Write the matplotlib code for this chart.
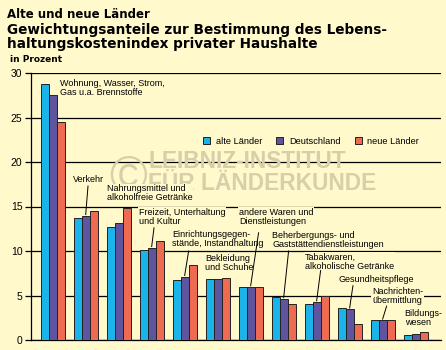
import matplotlib
matplotlib.use("Agg")
import matplotlib.pyplot as plt
import numpy as np

# Gewichtungsanteile in Prozent
alte = [28.8, 13.7, 12.7, 10.1, 6.7, 6.8, 5.95, 4.85, 4.0, 3.65, 2.3, 0.55]
deutschland = [27.5, 13.95, 13.1, 10.35, 7.1, 6.85, 5.95, 4.6, 4.25, 3.45, 2.2, 0.65]
neue = [24.5, 14.5, 14.8, 11.1, 8.45, 6.95, 5.95, 4.05, 4.9, 1.85, 2.2, 0.85]

labels = [
    "Wohnung, Wasser, Strom,\nGas u.a. Brennstoffe",
    "Verkehr",
    "Nahrungsmittel und\nalkoholfreie Getränke",
    "Freizeit, Unterhaltung\nund Kultur",
    "Einrichtungsgegen-\nstände, Instandhaltung",
    "Bekleidung\nund Schuhe",
    "andere Waren und\nDienstleistungen",
    "Beherbergungs- und\nGaststättendienstleistungen",
    "Tabakwaren,\nalkoholische Getränke",
    "Gesundheitspflege",
    "Nachrichten-\nübermittlung",
    "Bildungs-\nwesen",
]
series_names = ["alte Länder", "Deutschland", "neue Länder"]

# text anchor (left, top) and leader start, in data units
label_pos = [(0.22, 29.35), (0.61, 18.5), (1.65, 17.5), (2.61, 14.85),
             (3.61, 12.4), (4.61, 9.7), (5.65, 14.85), (6.65, 12.3),
             (7.65, 9.8), (8.65, 7.25), (9.68, 6.0), (10.67, 3.45)]
leader_start = [None, (1.07, 17.3), None, (3.07, 12.6), (4.12, 10.0), None,
                (6.24, 12.05), (7.15, 10.0), (8.12, 7.8), (9.1, 6.1),
                (10.12, 3.8), None]

bg = "#FFF9CC"
wm = "#D6CFAA"
colors = ["#1BB4EA", "#5E559E", "#EE6A50"]
lab_font = ["Liberation Sans", "DejaVu Sans"]

fig = plt.figure(figsize=(4.46, 3.5), dpi=100, facecolor=bg)
ax = fig.add_axes([30.7 / 446, 10 / 350, 410 / 446, 267 / 350])
ax.set_facecolor(bg)

x = np.arange(len(labels))
w = 0.242
for k, vals in enumerate([alte, deutschland, neue]):
    ax.bar(x + (k - 1) * w, vals, w, color=colors[k], edgecolor="#222222",
           linewidth=0.7, zorder=3, label=series_names[k])

ax.set_xlim(-0.667, 11.76)
ax.set_ylim(0, 30)
ax.set_yticks(range(0, 31, 5))
ax.yaxis.grid(True, color="black", linewidth=0.9, zorder=0)
ax.set_axisbelow(True)
ax.set_xticks([])
for s in ["top", "right"]:
    ax.spines[s].set_visible(False)
ax.spines["left"].set_linewidth(0.9)
ax.spines["bottom"].set_linewidth(0.9)
ax.tick_params(axis="y", length=4, width=0.9, labelsize=7.5, pad=2)
for t in ax.get_yticklabels():
    t.set_family(lab_font)

# watermark
ax.text((128 - 30.7) / 410, (340 - 174) / 267, "©", transform=ax.transAxes,
        fontsize=37, color=wm, ha="center", va="center_baseline", zorder=2,
        family=lab_font)
for txt, py in [("LEIBNIZ-INSTITUT", 161.5), ("FÜR LÄNDERKUNDE", 183)]:
    ax.text((148 - 30.7) / 410, (340 - py) / 267, txt,
            transform=ax.transAxes, fontsize=16.4, fontweight="bold",
            color=wm, ha="left", va="center", zorder=2, family=lab_font)

for i, lab in enumerate(labels):
    tx, ty = label_pos[i]
    ax.text(tx, ty, lab, fontsize=6.5, ha="left", va="top", linespacing=1.0,
            zorder=4, family=lab_font,
            bbox=dict(facecolor=bg, edgecolor="none", pad=0.5))
    if leader_start[i] is not None:
        sx, sy = leader_start[i]
        ax.plot([sx, i], [sy, deutschland[i] + 0.15], color="black",
                linewidth=0.7, zorder=4)

leg = ax.legend(loc="center", bbox_to_anchor=(0.684, 0.745), ncol=3,
                frameon=True, handlelength=0.75, handleheight=0.75,
                handletextpad=0.6, columnspacing=1.55, borderpad=0.2,
                prop={"family": lab_font, "size": 6.7})
leg.get_frame().set_facecolor(bg)
leg.get_frame().set_edgecolor("none")
leg.get_frame().set_alpha(1)
leg.set_zorder(5)

fig.text(7 / 446, 1 - 15 / 350, "Alte und neue Länder", fontsize=8.5,
         fontweight="bold", va="center", ha="left")
fig.text(7 / 446, 1 - 37 / 350,
         "Gewichtungsanteile zur Bestimmung des Lebens-\nhaltungskostenindex privater Haushalte",
         fontsize=9.8, fontweight="bold", va="center", ha="left", linespacing=1.0)
fig.text(10 / 446, 1 - 60 / 350, "in Prozent", fontsize=6.5,
         fontweight="bold", va="center", ha="left")

fig.savefig("out.png", dpi=100, facecolor=bg)
